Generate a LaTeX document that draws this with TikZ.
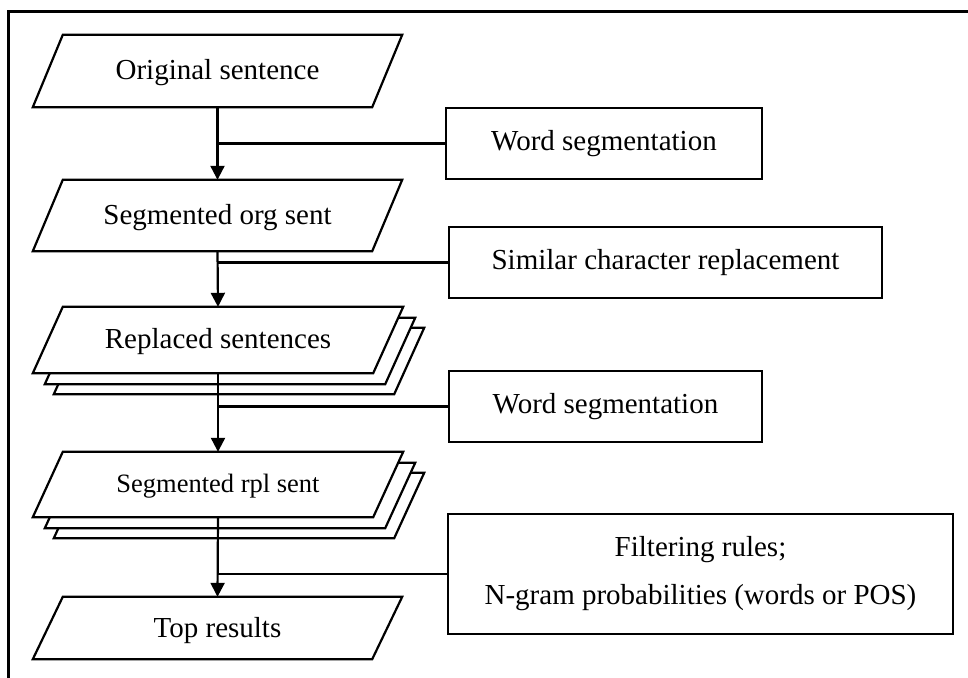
\documentclass[tikz,border=0pt]{standalone}
\usepackage{fontspec}
\setmainfont{Liberation Serif}
\usetikzlibrary{arrows.meta,calc}
\tikzset{
  ln/.style={line width=2.2pt, draw=black},
  para/.style={minimum height=#1, inner sep=0pt, font=\fontsize{29}{34}\selectfont},
  procbox/.style={ln, fill=white, inner sep=0pt, font=\fontsize{29}{34}\selectfont, align=center},
  flow/.style={ln, -{Triangle[width=14pt,length=14pt]}},
  link/.style={ln}
}
\newcommand{\paraoutline}[3]{% node name, dx, dy (dy downward)
  \draw[ln, fill=white] ($(#1.north west)+(15+#2,#3)$) -- ($(#1.north east)+(15+#2,#3)$) -- ($(#1.south east)+(-15+#2,#3)$) -- ($(#1.south west)+(-15+#2,#3)$) -- cycle;
}
\begin{document}
\begin{tikzpicture}[x=1pt,y=-1pt]
\useasboundingbox (0,0) rectangle (968,677);
\clip (0,0) rectangle (968,677);
% outer frame (only left and top edges are visible)
\draw[ln] (8.5,690) -- (8.5,11.5) -- (990,11.5);

% parallelogram nodes (text holders)
\node[para=72pt, minimum width=339pt] (p1) at (217.5,71) {};
\node[para=71pt, minimum width=339pt] (p2) at (217.5,215.5) {};
\node[para=66pt, minimum width=340pt] (p3) at (218,340) {};
\node[para=65pt, minimum width=340pt] (p4) at (218,484.5) {};
\node[para=62pt, minimum width=339pt] (p5) at (217.5,628) {};

% stacked back layers
\paraoutline{p3}{21}{21}
\paraoutline{p3}{12}{11}
\paraoutline{p4}{21}{21}
\paraoutline{p4}{12}{11}
% front outlines
\paraoutline{p1}{0}{0}
\paraoutline{p2}{0}{0}
\paraoutline{p3}{0}{0}
\paraoutline{p4}{0}{0}
\paraoutline{p5}{0}{0}

% texts
\node[font=\fontsize{29}{34}\selectfont] (t1) at ([yshift=-2pt]p1.center) {Original sentence};
\node[font=\fontsize{29}{34}\selectfont] (t2) at ([yshift=-2pt]p2.center) {Segmented org sent};
\node[font=\fontsize{29}{34}\selectfont] (t3) at ([yshift=-2pt]p3.center) {Replaced sentences};
\node[font=\fontsize{26.5}{32}\selectfont] (t4) at ([yshift=-2pt]p4.center) {Segmented rpl sent};
\node[font=\fontsize{29}{34}\selectfont] (t5) at ([yshift=-3pt]p5.center) {Top results};

% process boxes
\node[procbox, minimum width=316pt, minimum height=71pt] (b1) at (604,143.5) {Word segmentation};
\node[procbox, minimum width=433pt, minimum height=71pt] (b2) at (665.5,262.5) {Similar character replacement};
\node[procbox, minimum width=313pt, minimum height=71pt] (b3) at (605.5,406.5) {Word segmentation};
\node[procbox, minimum width=505pt, minimum height=120pt] (b4) at (700.5,574) {Filtering rules;\\[14pt]N-gram probabilities (words or POS)};

% flow arrows
\draw[flow] (p1.south) -- (p2.north);
\draw[flow] (p2.south) -- (p3.north);
\draw[flow] (p3.south) -- (p4.north);
\draw[flow] (p4.south) -- (p5.north);

% side links
\draw[link] (b1.west) -- (b1.west -| p1.south);
\draw[link] (b2.west) -- (b2.west -| p2.south);
\draw[link] (b3.west) -- (b3.west -| p3.south);
\draw[link] (b4.west) -- (b4.west -| p4.south);
\end{tikzpicture}
\end{document}
